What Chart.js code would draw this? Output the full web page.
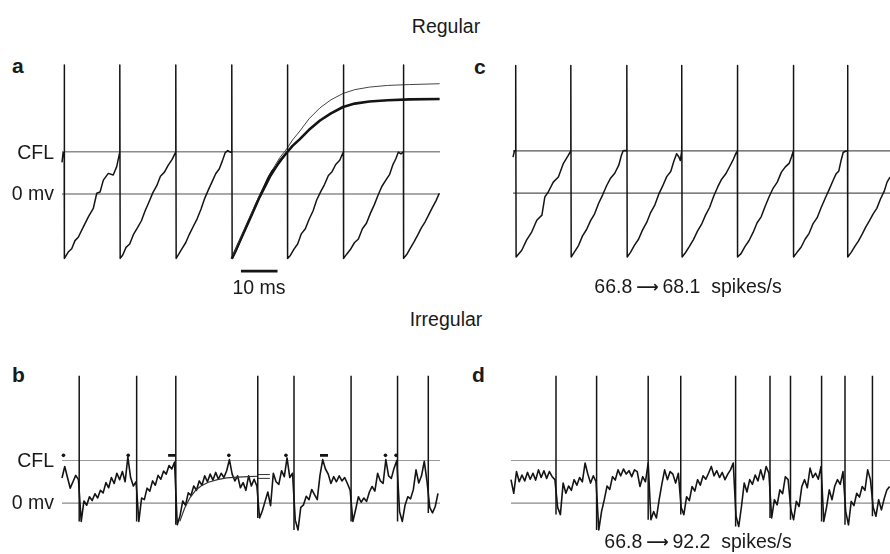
<!DOCTYPE html>
<html>
<head>
<meta charset="utf-8">
<script src="https://cdn.jsdelivr.net/npm/chart.js@4.4.1/dist/chart.umd.min.js"></script>
<style>
  html,body{margin:0;padding:0;background:#fff;overflow:hidden;}
  body{width:890px;height:554px;position:relative;font-family:"Liberation Sans",Arial,Helvetica,sans-serif;color:#1a1a1a;}
  canvas{position:absolute;}
  .lbl{position:absolute;white-space:nowrap;line-height:1;}
  .arr{font-family:"DejaVu Sans",sans-serif;font-weight:bold;}
</style>
</head>
<body>
<canvas id="cA"></canvas>
<canvas id="cC"></canvas>
<canvas id="cB"></canvas>
<canvas id="cD"></canvas>
<script>
// ---------------- DATA (time in ms, potential in arbitrary mV units; CFL = 10, rest line = 0) ----------------
const cflLevel = 10;
const zeroLevel = 0;

// Panel a: regular firing trace [t, v]
const traceA = [
  [0,7.5],[0.3,9.8],[0.6,9.6],[0.6,30.5],[0.7,-15.2],
  [1.7,-13.7],[2.65,-12.9],[3.55,-11],[4.45,-10.2],[5.8,-7.8],[7.2,-5.4],[8.55,-3.4],[9.5,0.2],[10.4,0.5],[11.3,3.3],[12.65,4.9],[14.0,4.5],[14.95,6.5],[15.8,10],
  [15.8,30.5],[15.9,-15.2],
  [16.6,-14.4],[17.5,-12.6],[18.5,-11.8],[19.5,-9.6],[20.6,-8.0],[21.7,-6.3],[22.7,-4.0],[23.8,-1.8],[24.8,0.3],[25.9,2.0],[26.9,4.2],[28.0,5.2],[29.0,6.8],[30.1,8.2],[31.1,10],
  [31.1,30.5],[31.2,-15.2],
  [31.9,-14.2],[32.8,-12.9],[33.8,-11.5],[34.8,-9.5],[35.9,-7.6],[36.9,-5.9],[38.0,-3.5],[39.0,-1.0],[40.0,1.0],[41.0,2.9],[42.0,4.8],[43.0,6.0],[43.8,7.8],[44.6,9.8],[45.3,10.3],[46.0,9.9],[46.4,10],
  [46.4,30.5],[46.5,-15.2],
  [47.5,-13.6],[48.6,-11.3],[49.7,-9.0],[50.8,-6.8],[51.9,-4.8],[53.0,-2.4],[54.1,-0.4],[55.2,1.8],[56.3,3.9],[57.4,5.5],[58.5,6.4],[59.6,7.6],[60.6,8.8],[61.6,10],
  [61.6,30.5],[61.7,-15.2],
  [62.4,-14.5],[63.4,-13.0],[64.4,-11.8],[65.4,-9.4],[66.5,-8.2],[67.5,-6.0],[68.6,-4.0],[69.6,-1.4],[70.7,0.6],[71.7,2.2],[72.8,4.4],[73.8,5.3],[74.8,7.0],[75.9,8.0],[76.9,10],
  [76.9,30.5],[77.0,-15.2],
  [77.8,-14.2],[78.8,-13.1],[79.9,-11.5],[81.0,-10.6],[82.1,-8.2],[83.2,-6.9],[84.3,-4.5],[85.3,-2.6],[86.4,-0.2],[87.4,1.8],[88.5,3.3],[89.5,4.6],[90.4,6.9],[91.2,8.3],[91.9,9.9],[92.6,9.5],[93.3,10],
  [93.3,30.5],[93.4,-15.2],
  [94.2,-14.3],[95.2,-12.8],[96.2,-11.3],[97.2,-9.7],[98.2,-8.0],[99.2,-6.6],[100.2,-4.9],[101.2,-3.2],[102.2,-1.6],[103.1,0.2]
];
// Panel a: smooth average curves
const curveThinA = [[46.4,-15.3],[48.5,-11.0],[51,-6.0],[54,-0.2],[57,5.0],[59.5,8.6],[61.5,10.8],[63,12.8],[65,14.9],[67.5,17.8],[70.5,20.4],[73.5,22.3],[76.8,23.8],[80,24.7],[84,25.3],[89,25.7],[95,25.9],[103.2,26.1]];
const curveThickA = [[46.4,-15.3],[48.5,-11.3],[51,-6.5],[54,-0.7],[57,4.4],[59.5,7.8],[61.5,9.9],[63,11.4],[65,13.0],[67.5,15.2],[70.5,17.4],[73.5,19.1],[76.8,20.6],[80,21.4],[84,21.9],[89,22.2],[95,22.4],[103.2,22.5]];
const scaleBarStart = 48.9, scaleBarLen = 10, scaleBarLevel = -18.2;

// Panel c: regular firing after change
const traceC = [
  [0,8.5],[0.4,10],[0.74,10],[0.74,30.2],[0.85,-15.1],
  [1.0,-15.1],[2.4,-13.5],[3.7,-11.1],[5.1,-9.2],[6.5,-6.4],[7.9,-5.2],[8.7,-0.9],[9.6,0.2],[11.0,2.6],[12.4,3.8],[13.7,6.9],[15.1,8.9],[15.8,10],
  [15.8,30.2],[15.9,-15.1],
  [16.8,-13.9],[17.9,-12.4],[19.0,-10.1],[20.1,-8.6],[21.2,-6.5],[22.3,-4.9],[23.4,-2.4],[24.5,-0.4],[25.6,1.8],[26.7,3.6],[27.8,4.7],[28.9,6.6],[29.6,8.9],[30.1,10.0],[30.6,10.1],[31.1,10],
  [31.1,30.2],[31.2,-15.1],
  [32.1,-14.0],[33.2,-12.3],[34.3,-10.9],[35.4,-8.7],[36.5,-7.0],[37.6,-4.6],[38.7,-2.9],[39.8,-0.3],[40.9,1.7],[42.0,3.9],[43.1,5.1],[43.9,7.4],[44.7,9.3],[45.3,8.6],[45.7,7.7],[46.1,10],
  [46.1,30.2],[46.2,-15.1],
  [47.1,-14.1],[48.2,-12.6],[49.3,-11.0],[50.4,-9.0],[51.5,-7.4],[52.6,-5.2],[53.7,-3.4],[54.8,-0.8],[55.9,1.4],[57.0,3.3],[58.1,4.5],[59.2,6.3],[60.2,8.0],[60.9,9.4],[61.3,10],
  [61.3,30.2],[61.4,-15.1],
  [62.3,-14.3],[63.4,-12.6],[64.5,-11.2],[65.6,-9.3],[66.7,-7.0],[67.8,-5.6],[68.9,-3.1],[70.0,-0.8],[71.1,1.2],[72.2,2.6],[73.3,4.9],[74.4,6.2],[75.5,7.1],[76.1,8.6],[76.6,10],
  [76.6,30.2],[76.7,-15.1],
  [77.6,-14.0],[78.7,-12.8],[79.8,-10.9],[80.9,-9.5],[82.0,-7.2],[83.1,-5.8],[84.2,-3.4],[85.3,-1.2],[86.4,0.9],[87.5,3.1],[88.3,4.6],[89.0,5.2],[89.6,7.6],[90.2,9.6],[90.8,9.9],[91.4,10],
  [91.4,30.2],[91.5,-15.1],
  [92.4,-14.0],[93.4,-12.6],[94.4,-11.3],[95.4,-9.7],[96.4,-8.0],[97.4,-6.5],[98.4,-4.9],[99.4,-3.6],[100.4,-1.4],[101.4,0.4],[102.2,2.6],[103.0,3.8]
];

// Panel b: irregular trace, sampled every dtIrr ms
const dtIrr = 0.75;
const traceBv = [
  5.9,8.6,6.0,3.5,5.0,6.5,5.5,-4.3,0.5,-0.5,
  1.5,0.6,2.2,1.2,3.0,2.4,4.8,3.6,6.0,4.6,
  7.0,5.5,7.4,5.0,10.8,6.0,4.0,5.0,-4.3,1.2,
  0.8,3.5,2.8,5.2,4.2,6.5,5.6,7.5,6.8,8.8,
  8.0,9.6,-5.1,-3.0,0.5,-0.5,2.4,1.8,4.0,3.0,
  5.2,4.2,6.4,5.0,6.8,5.4,7.2,5.6,7.0,6.0,
  7.6,10.2,6.8,5.2,6.4,3.6,4.8,3.0,6.4,4.0,
  5.6,4.0,-3.5,-1.8,0.4,2.6,-0.6,7.0,5.0,4.4,
  7.6,6.2,10.6,6.0,7.0,-4.0,-6.3,-1.0,-0.4,1.6,
  0.8,3.2,2.0,0.8,6.5,10.2,8.0,6.8,4.6,6.2,
  5.0,6.4,5.2,6.0,4.6,3.0,-4.3,-1.5,1.5,0.2,
  1.2,0.4,2.6,3.9,2.8,7.0,5.2,4.6,10.2,6.4,
  5.8,8.2,10.0,-2.0,-4.3,-0.5,1.5,1.0,3.1,7.8,
  4.7,6.4,9.8,5.1,-1.0,-2.3,-0.8,2.3
];
const spikeTimesB = [4.7,20.4,31.1,53.5,63.4,79.0,91.7,100.1];
const spikeTroughB = [-4.3,-4.3,-5.1,-3.5,-6.3,-4.3,-4.3,-2.3];
const spikePeakIrr = 29.9;
const dotsB = [0.4,18.1,45.6,61.2,88.4,91.3];
const dashesB = [[29.0,31.0],[70.5,72.7]];
const markLevelB = 11.2;
const curveB = [[32.2,-4.3],[33.5,-1.2],[35,1.3],[36.5,3.0],[38,4.0],[40,4.9],[42.5,5.5],[45,5.9],[48,6.1],[51,6.2],[53.5,6.3]];
const pairLinesB = [[53.5,56.8,6.7],[53.5,56.8,5.8]];

// Panel d: irregular trace after change
const traceDv = [
  5.5,2.3,7.4,5.0,6.6,5.2,7.2,5.6,7.0,5.4,
  7.8,6.0,7.6,5.8,7.4,6.2,5.5,-1.0,-2.7,4.7,
  2.3,4.0,3.0,5.5,4.2,6.0,5.0,9.4,6.8,4.7,
  6.4,5.0,-6.3,-2.0,0.8,4.0,3.2,6.2,5.4,7.8,
  6.4,8.0,6.8,7.6,6.2,7.8,7.4,3.9,6.2,5.0,
  9.4,-3.9,-2.0,-3.5,0.8,4.5,7.8,5.5,7.4,6.8,
  4.7,7.0,-1.0,-2.7,1.5,0.6,3.9,2.8,5.5,4.2,
  6.4,5.6,7.0,8.6,6.4,7.6,6.0,7.2,5.5,6.8,
  7.8,9.4,-3.0,-5.5,-0.8,4.7,2.6,5.5,4.4,6.6,
  5.2,7.8,5.5,8.6,7.0,-3.5,0.8,-0.4,3.1,2.2,
  6.2,5.5,-1.5,-3.9,0.4,-0.8,3.9,5.5,3.6,8.2,
  6.0,7.0,5.6,8.6,-4.3,-1.0,3.1,0.8,4.0,5.5,
  4.4,7.4,-2.0,-5.1,0.4,-0.6,2.3,1.4,3.9,3.0,
  7.8,5.5,-1.0,-3.1,0.8,-1.6,1.0,3.1,3.9
];
const spikeTimesD = [12.3,23.4,37.5,46.4,61.4,70.8,76.4,84.9,91.3,98.8];
const spikeTroughD = [-2.7,-6.3,-3.9,-2.7,-5.5,-3.5,-3.9,-4.3,-5.1,-3.1];

// Texts
const titleTop = "Regular", titleBottom = "Irregular";
const rateC = ["66.8", "68.1", "spikes/s"];
const rateD = ["66.8", "92.2", "spikes/s"];
const scaleLabel = "10 ms";
const levelLabels = ["CFL", "0 mv"];

// ---------------- helpers ----------------
const pts = arr => arr.map(p => ({x:p[0], y:p[1]}));
const sampled = (vals, dt) => vals.map((v,i) => ({x:i*dt, y:v}));
function refLine(level, xr, color, w){
  return {data:[{x:xr[0],y:level},{x:xr[1],y:level}], borderColor:color, borderWidth:w, order:9};
}
function spikeSegs(times, troughs, peak){
  const out = [];
  times.forEach((t,i)=>{ out.push({x:t,y:troughs[i]},{x:t,y:peak},{x:t,y:null}); });
  return out;
}
function line(data, color, w, order){
  return {data, borderColor:color, borderWidth:w, order:order||1};
}
function makeChart(id, area, xr, yr, datasets){
  const pad = 8;
  const cv = document.getElementById(id);
  cv.width = Math.round(area.w + 2*pad);
  cv.height = Math.round(area.h + 2*pad);
  cv.style.left = (area.x - pad) + 'px';
  cv.style.top = (area.y - pad) + 'px';
  datasets.forEach(d=>{ d.showLine = d.showLine===undefined ? true : d.showLine; if(d.pointRadius===undefined) d.pointRadius = 0; d.clip = pad; d.spanGaps = false; d.tension = d.tension||0; d.borderJoinStyle='round'; });
  new Chart(cv, {
    type:'scatter',
    data:{datasets},
    options:{
      responsive:false, animation:false, devicePixelRatio:1, events:[],
      layout:{padding:{left:pad,right:cv.width-pad-area.w,top:pad,bottom:cv.height-pad-area.h}},
      plugins:{legend:{display:false}, tooltip:{enabled:false}},
      scales:{
        x:{type:'linear', display:false, min:xr[0], max:xr[1]},
        y:{type:'linear', display:false, min:yr[0], max:yr[1]}
      }
    }
  });
}

// ---------------- charts ----------------
const INK = '#141414';
// a
(function(){
  const xr=[0,103.3], yr=[-20,31];
  makeChart('cA', {x:62, y:62.9, w:378, h:215.7}, xr, yr, [
    refLine(cflLevel, xr, '#8c8c8c', 1.5),
    refLine(zeroLevel, xr, '#8c8c8c', 1.5),
    line(pts(curveThinA), '#444', 1.0, 2),
    line(pts(curveThickA), INK, 2.6, 2),
    line(pts(traceA), INK, 1.5, 1),
    line([{x:scaleBarStart,y:scaleBarLevel},{x:scaleBarStart+scaleBarLen,y:scaleBarLevel}], INK, 2.6, 1)
  ]);
})();
// c
(function(){
  const xr=[0,103.0], yr=[-16,31];
  makeChart('cC', {x:513, y:61.6, w:377, h:198.8}, xr, yr, [
    refLine(cflLevel, xr, '#555', 1.4),
    refLine(zeroLevel, xr, '#555', 1.4),
    line(pts(traceC), INK, 1.5, 1)
  ]);
})();
// b
(function(){
  const xr=[0,103.3], yr=[-10,31];
  const dashes = [];
  dashesB.forEach(d=>{ dashes.push({x:d[0],y:markLevelB},{x:d[1],y:markLevelB},{x:d[1],y:null}); });
  const pairs = [];
  pairLinesB.forEach(p=>{ pairs.push({x:p[0],y:p[2]},{x:p[1],y:p[2]},{x:p[1],y:null}); });
  makeChart('cB', {x:62, y:371.2, w:378, h:174.7}, xr, yr, [
    refLine(cflLevel, xr, '#9a9a9a', 1.1),
    refLine(zeroLevel, xr, '#8a8a8a', 1.3),
    line(sampled(traceBv, dtIrr), INK, 1.6, 2),
    line(spikeSegs(spikeTimesB, spikeTroughB, spikePeakIrr), INK, 1.5, 1),
    line(pts(curveB), '#333', 1.2, 1),
    line(pairs, '#333', 1.0, 1),
    line(dashes, INK, 2.6, 1),
    {data:dotsB.map(t=>({x:t,y:markLevelB})), showLine:false, pointRadius:1.8, pointBackgroundColor:INK, pointBorderWidth:0, order:1}
  ]);
})();
// d
(function(){
  const xr=[0,103.6], yr=[-10,31];
  makeChart('cD', {x:511, y:371.2, w:379, h:174.7}, xr, yr, [
    refLine(cflLevel, xr, '#9a9a9a', 1.1),
    refLine(zeroLevel, xr, '#8a8a8a', 1.3),
    line(sampled(traceDv, dtIrr), INK, 1.6, 2),
    line(spikeSegs(spikeTimesD, spikeTroughD, spikePeakIrr), INK, 1.5, 1)
  ]);
})();

// ---------------- text ----------------
function label(html, x, y, opts){
  const d = document.createElement('div');
  d.className = 'lbl';
  d.innerHTML = html;
  d.style.left = x + 'px';
  d.style.top = y + 'px';
  d.style.fontSize = (opts.size||19) + 'px';
  if(opts.bold) d.style.fontWeight = 'bold';
  const tx = opts.align==='right' ? '-100%' : (opts.align==='left' ? '0' : '-50%');
  d.style.transform = 'translate(' + tx + ',-50%)';
  document.body.appendChild(d);
}
const arrow = '<span class="arr" style="font-size:0.8em;position:relative;top:-1px">\u27F6</span>';
label(titleTop, 446, 27, {size:19.5});
label(titleBottom, 446, 320, {size:19.5});
label('a', 12, 65, {size:21, bold:true, align:'left'});
label('c', 474, 66, {size:21, bold:true, align:'left'});
label('b', 12, 374, {size:21, bold:true, align:'left'});
label('d', 472, 374, {size:21, bold:true, align:'left'});
label(levelLabels[0], 54, 153, {size:19.5, align:'right'});
label(levelLabels[1], 54, 194, {size:19.5, align:'right'});
label(levelLabels[0], 54, 461, {size:19.5, align:'right'});
label(levelLabels[1], 54, 503, {size:19.5, align:'right'});
label(scaleLabel, 259, 288, {size:19.5});
label(rateC[0] + '&thinsp;' + arrow + '&thinsp;' + rateC[1] + '&nbsp;&nbsp;' + rateC[2], 688, 287, {size:19.5});
label(rateD[0] + '&thinsp;' + arrow + '&thinsp;' + rateD[1] + '&nbsp;&nbsp;' + rateD[2], 698, 542, {size:19.5});
</script>
</body>
</html>
